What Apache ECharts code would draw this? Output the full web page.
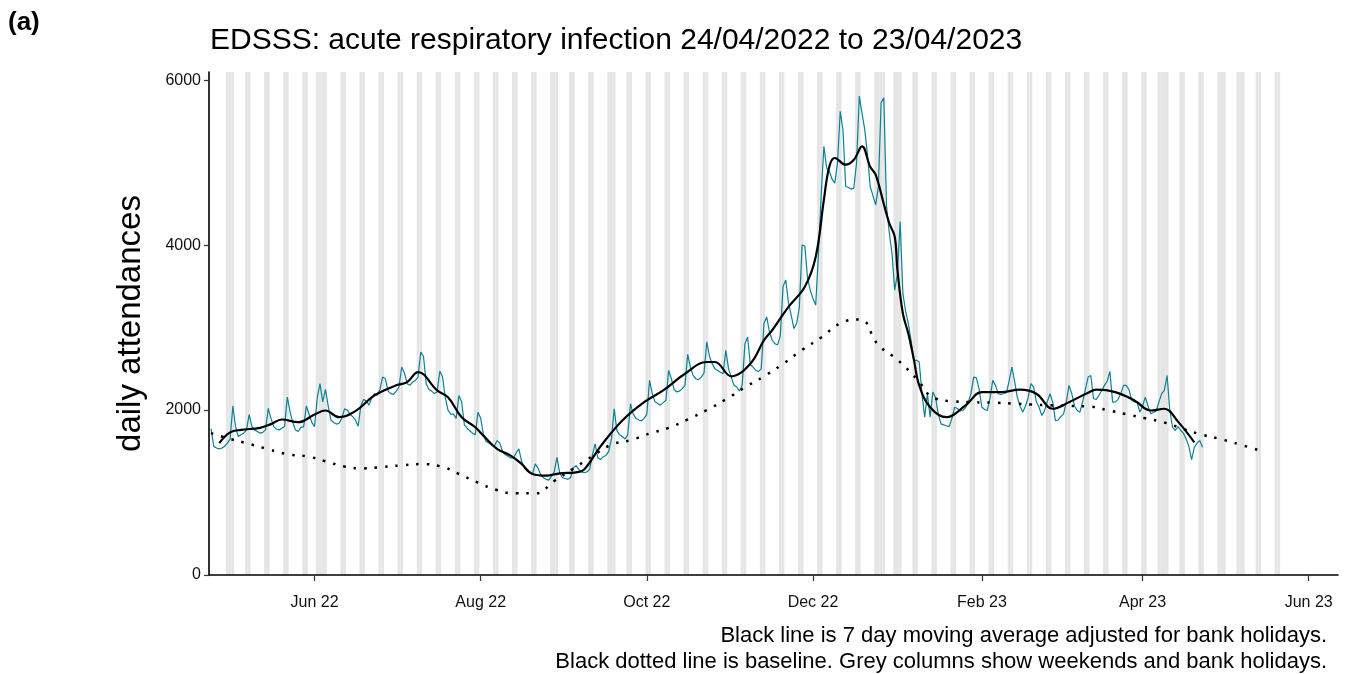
<!DOCTYPE html>
<html>
<head>
<meta charset="utf-8">
<title>EDSSS acute respiratory infection</title>
<script src="https://cdn.jsdelivr.net/npm/echarts/dist/echarts.min.js"></script>
<style>
  html, body { margin: 0; padding: 0; background: #fff; }
  #chart { width: 1354px; height: 674px; }
</style>
</head>
<body>
<div id="chart"></div>
<script>
// daily counts from Sun 24/04/2022, one row per week (Sun..Sat)
const dailyStart = '2022-04-24'
const dailyCounts = [
  1775, 1560, 1540, 1530, 1540, 1560, 1600,
  1650, 2050, 1800, 1680, 1700, 1720, 1760,
  1946, 1800, 1760, 1740, 1720, 1730, 1760,
  2020, 1900, 1800, 1770, 1760, 1780, 1800,
  2157, 1980, 1850, 1760, 1740, 1790, 1800,
  2050, 1950, 1850, 1800, 2150, 2320, 2100,
  2250, 2050, 1880, 1850, 1830, 1840, 1900,
  2015, 2000, 1950, 1920, 1880, 1805, 2050,
  2130, 2110, 2060, 2150, 2200, 2180, 2250,
  2400, 2380, 2230, 2200, 2190, 2230, 2280,
  2522, 2450, 2320, 2300, 2340, 2360, 2400,
  2705, 2650, 2320, 2250, 2230, 2200, 2220,
  2474, 2400, 2150, 2000, 1950, 1950, 1900,
  2178, 2100, 1820, 1780, 1750, 1720, 1700,
  1975, 1900, 1700, 1620, 1600, 1580, 1560,
  1630, 1600, 1500, 1460, 1440, 1420, 1420,
  1480, 1529, 1380, 1300, 1260, 1240, 1220,
  1347, 1300, 1220, 1180, 1160, 1150, 1200,
  1250, 1427, 1240, 1180, 1170, 1160, 1180,
  1300, 1326, 1280, 1250, 1240, 1250, 1280,
  1450, 1590, 1420, 1400, 1435, 1450, 1500,
  1650, 2016, 1750, 1700, 1680, 1650, 1700,
  2077, 1950, 1900, 1880, 1870, 1900, 1950,
  2360, 2200, 2100, 2080, 2060, 2090, 2120,
  2482, 2380, 2250, 2220, 2230, 2260, 2300,
  2676, 2520, 2420, 2380, 2370, 2400, 2450,
  2826, 2650, 2560, 2500, 2480, 2460, 2440,
  2725, 2500, 2400, 2300, 2280, 2230, 2300,
  2800, 2887, 2550, 2522, 2480, 2470, 2500,
  3050, 3130, 2950, 2850, 2806, 2790, 2900,
  3500, 3577, 3300, 3150, 2989, 3050, 3250,
  4002, 3990, 3600, 3455, 3350, 3273, 3900,
  4600, 5199, 4935, 4900, 4800, 4753, 5000,
  5624, 5400, 4712, 4700, 4680, 4692, 5000,
  5807, 5600, 5401, 5100, 4712, 4600, 4489,
  4700, 5726, 5787, 4469, 4150, 3902, 3455,
  3650, 4286, 3415, 3200, 3050, 2850, 2603,
  2603, 2583, 2200, 1914, 2198, 1914, 2218,
  2150, 1950, 1833, 1820, 1810, 1800, 1900,
  2035, 2020, 1990, 1995, 2030, 2096, 2200,
  2400, 2390, 2250, 2035, 2010, 1995, 2150,
  2360, 2300, 2198, 2190, 2198, 2210, 2350,
  2522, 2350, 2157, 2050, 1975, 2050, 2150,
  2320, 2280, 2100, 2035, 1934, 1990, 2100,
  2198, 2100, 1873, 1880, 1920, 1955, 2100,
  2300, 2200, 2050, 1995, 1975, 2100, 2250,
  2400, 2420, 2137, 2130, 2180, 2238, 2300,
  2350, 2470, 2096, 2100, 2130, 2200, 2300,
  2300, 2250, 2117, 2100, 2090, 1975, 2050,
  2157, 2050, 1955, 1970, 1990, 2096, 2200,
  2238, 2420, 2000, 1792, 1752, 1800, 1752,
  1720, 1650, 1560, 1400, 1549, 1600, 1630,
  1549
]

// 7 day moving average (black line)
const maDates = [
  '2022-04-27', '2022-05-01', '2022-05-05', '2022-05-12', '2022-05-16', '2022-05-20',
  '2022-05-26', '2022-06-01', '2022-06-05', '2022-06-10', '2022-06-16', '2022-06-23',
  '2022-07-01', '2022-07-05', '2022-07-09', '2022-07-16', '2022-07-20', '2022-07-25',
  '2022-07-30', '2022-08-02', '2022-08-07', '2022-08-12', '2022-08-16', '2022-08-20',
  '2022-08-25', '2022-08-30', '2022-09-05', '2022-09-08', '2022-09-14', '2022-09-22',
  '2022-09-30', '2022-10-07', '2022-10-15', '2022-10-23', '2022-10-26', '2022-11-01',
  '2022-11-08', '2022-11-13', '2022-11-16', '2022-11-22', '2022-11-28', '2022-12-02',
  '2022-12-05', '2022-12-07', '2022-12-09', '2022-12-13', '2022-12-16', '2022-12-19',
  '2022-12-22', '2022-12-24', '2022-12-27', '2022-12-29', '2022-12-31', '2023-01-01',
  '2023-01-03', '2023-01-05', '2023-01-07', '2023-01-09', '2023-01-13', '2023-01-19',
  '2023-01-26', '2023-02-01', '2023-02-08', '2023-02-15', '2023-02-21', '2023-02-27',
  '2023-03-05', '2023-03-12', '2023-03-15', '2023-03-22', '2023-03-29', '2023-04-04',
  '2023-04-09', '2023-04-14', '2023-04-20'
]
const maValues = [
  1600, 1730, 1760, 1785, 1830, 1886,
  1853, 1946, 1995, 1914, 1987, 2178,
  2300, 2339, 2461, 2238, 2157, 1914,
  1792, 1690, 1529, 1448, 1347, 1225,
  1204, 1233, 1245, 1280, 1560, 1873,
  2096, 2238, 2441, 2583, 2583, 2409,
  2563, 2847, 2968, 3252, 3495, 3860,
  4550, 4955, 5057, 4976, 5036, 5199,
  4950, 4854, 4500, 4266, 4104, 3700,
  3171, 2928, 2620, 2300, 2035, 1914,
  2056, 2218, 2218, 2247, 2198, 2016,
  2096, 2210, 2247, 2218, 2117, 1995,
  2016, 1860, 1609
]

// baseline, weekly from 24/04/2022
const baselineWeekly = [
  1720, 1650, 1590, 1525, 1465, 1440, 1380, 1315, 1293, 1310,
  1330, 1345, 1320, 1225, 1120, 1030, 990, 990, 1140, 1290,
  1440, 1580, 1635, 1715, 1785, 1886, 2000, 2130, 2275, 2409,
  2560, 2730, 2880, 3050, 3100, 2790, 2610, 2380, 2140, 2105,
  2095, 2090, 2080, 2068, 2058, 2050, 2044, 2000, 1950, 1900,
  1850, 1770, 1700, 1645, 1580, 1510
]

const bankHolidays = [
  '2022-05-02', '2022-06-02', '2022-06-03', '2022-08-29', '2022-09-19',
  '2022-12-26', '2022-12-27', '2023-01-02', '2023-04-07', '2023-04-10',
  '2023-05-01', '2023-05-08'
]
const shadeFrom = '2022-04-25'
const shadeTo = '2023-05-21'

const tickDates = ['2022-06-01', '2022-08-01', '2022-10-01', '2022-12-01', '2023-02-01', '2023-04-01', '2023-06-01']
const monthNames = ['Jan', 'Feb', 'Mar', 'Apr', 'May', 'Jun', 'Jul', 'Aug', 'Sep', 'Oct', 'Nov', 'Dec']
const yTicks = [0, 2000, 4000, 6000]

const DAY = 86400000
const t0 = Date.parse(dailyStart)

const daily = dailyCounts.map((v, i) => [t0 + i * DAY, v])
const ma = maDates.map((d, i) => [Date.parse(d), maValues[i]])
const baseline = baselineWeekly.map((v, i) => [t0 + i * 7 * DAY, v])

// grey columns: weekends + bank holidays, one column per day
const bh = new Set(bankHolidays)
const shade = []
for (let t = Date.parse(shadeFrom); t <= Date.parse(shadeTo); t += DAY) {
  const d = new Date(t)
  const wd = d.getUTCDay()
  if (wd === 0 || wd === 6 || bh.has(d.toISOString().slice(0, 10))) {
    shade.push([{ xAxis: t - DAY / 2 }, { xAxis: t + DAY / 2 }])
  }
}

const font = 'Liberation Sans, Arial, Helvetica, sans-serif'
const xTicks = tickDates.map(d => Date.parse(d))
const myChart = echarts.init(document.getElementById('chart'))

const option = {
  animation: false,
  backgroundColor: '#fff',
  textStyle: { fontFamily: font },
  title: {
    text: 'EDSSS: acute respiratory infection 24/04/2022 to 23/04/2023',
    left: 210,
    top: 26,
    padding: 0,
    textStyle: { fontFamily: font, fontSize: 30, fontWeight: 'normal', color: '#000' }
  },
  graphic: [
    { type: 'text', left: 8, top: 10, style: { text: '(a)', font: 'bold 26px ' + font, fill: '#000' } },
    { type: 'text', right: 27, top: 625, style: { text: 'Black line is 7 day moving average adjusted for bank holidays.', font: '22px ' + font, fill: '#000' } },
    { type: 'text', right: 27, top: 651, style: { text: 'Black dotted line is baseline. Grey columns show weekends and bank holidays.', font: '22px ' + font, fill: '#000' } }
  ],
  grid: { left: 209, right: 16, top: 72, bottom: 99 },
  xAxis: {
    // plain value axis in ms, labels formatted as month + year
    type: 'value',
    z: 10,
    min: Date.UTC(2022, 3, 23, 6),
    max: Date.UTC(2023, 5, 11, 18),
    splitLine: { show: false },
    axisLine: { lineStyle: { color: '#000', width: 1.6 } },
    axisTick: { show: true, length: 6, lineStyle: { color: '#333', width: 1.2 }, customValues: xTicks },
    axisLabel: {
      customValues: xTicks,
      margin: 20,
      fontSize: 16,
      color: '#111',
      formatter: v => {
        const d = new Date(v)
        return monthNames[d.getUTCMonth()] + ' ' + String(d.getUTCFullYear()).slice(2)
      }
    }
  },
  yAxis: {
    type: 'value',
    z: 10,
    min: 0,
    max: 6100,
    interval: 2000,
    name: 'daily attendances',
    nameLocation: 'middle',
    nameGap: 62,
    nameTextStyle: { fontFamily: font, fontSize: 33, color: '#000' },
    splitLine: { show: false },
    axisLine: { show: true, lineStyle: { color: '#000', width: 1.6 } },
    axisTick: { show: true, length: 5, lineStyle: { color: '#333', width: 1.2 }, customValues: yTicks },
    axisLabel: { customValues: yTicks, margin: 8, fontSize: 16, color: '#111', formatter: v => String(v) }
  },
  series: [
    {
      name: 'shade',
      type: 'line',
      data: [],
      silent: true,
      z: 1,
      markArea: { silent: true, itemStyle: { color: '#e5e5e5' }, label: { show: false }, data: shade }
    },
    {
      name: 'daily',
      type: 'line',
      data: daily,
      showSymbol: false,
      lineStyle: { color: '#0b8196', width: 1.2 },
      z: 3
    },
    {
      name: 'baseline',
      type: 'line',
      data: baseline,
      smooth: true,
      showSymbol: false,
      lineStyle: { color: '#000', width: 2.5, type: [2.5, 8] },
      z: 4
    },
    {
      name: 'moving average',
      type: 'line',
      data: ma,
      smooth: 0.4,
      showSymbol: false,
      lineStyle: { color: '#000', width: 2.2 },
      z: 5
    }
  ]
}

myChart.setOption(option)
</script>
</body>
</html>
